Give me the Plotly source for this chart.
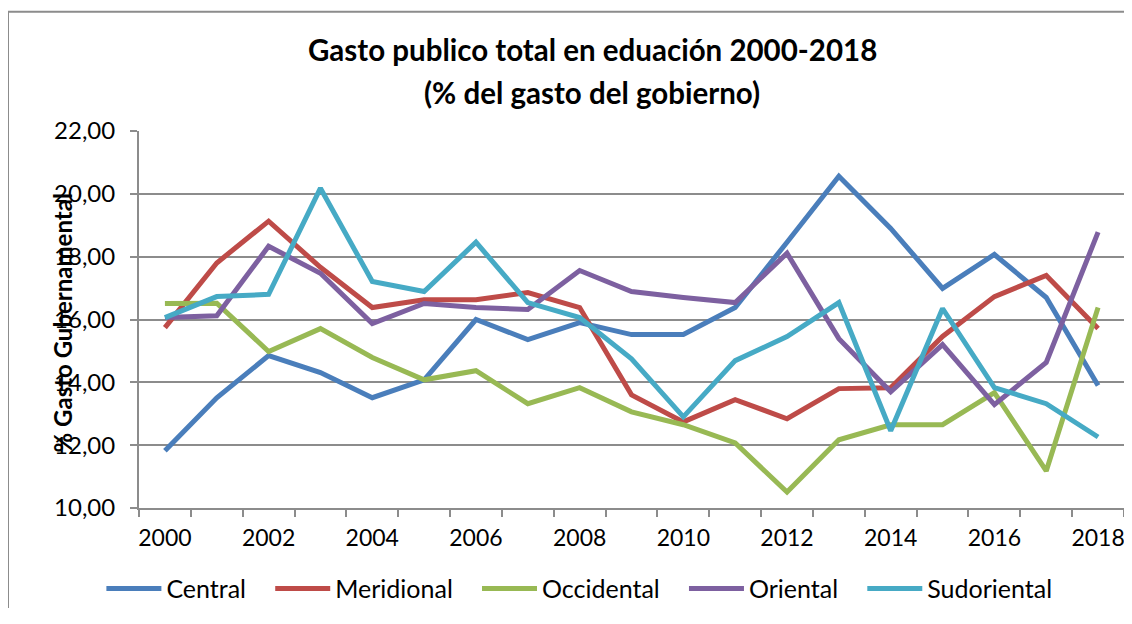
import plotly.graph_objects as go

years = list(range(2000, 2019))

central = [11.82, 13.51, 14.85, 14.31, 13.51, 14.08, 16.00, 15.36, 15.90, 15.52,
           15.52, 16.38, 18.46, 20.56, 18.90, 16.99, 18.07, 16.70, 13.90]
meridional = [15.74, 17.80, 19.13, 17.66, 16.38, 16.63, 16.63, 16.86, 16.38, 13.60,
              12.74, 13.45, 12.84, 13.80, 13.83, 15.46, 16.73, 17.40, 15.71]
occidental = [16.51, 16.52, 14.98, 15.71, 14.79, 14.08, 14.37, 13.32, 13.83, 13.06,
              12.65, 12.07, 10.51, 12.17, 12.65, 12.65, 13.67, 11.18, 16.38]
oriental = [16.06, 16.12, 18.33, 17.47, 15.87, 16.51, 16.38, 16.32, 17.56, 16.89,
            16.70, 16.54, 18.11, 15.39, 13.70, 15.20, 13.29, 14.63, 18.78]
sudoriental = [16.06, 16.73, 16.80, 20.18, 17.21, 16.89, 18.46, 16.54, 16.06, 14.75,
               12.90, 14.69, 15.46, 16.54, 12.46, 16.35, 13.83, 13.32, 12.26]

series = [
    ("Central", central, "#4a7ebb"),
    ("Meridional", meridional, "#be4b48"),
    ("Occidental", occidental, "#98b954"),
    ("Oriental", oriental, "#7d60a0"),
    ("Sudoriental", sudoriental, "#46aac5"),
]

title_lines = ["Gasto publico total en eduación 2000-2018", "(% del gasto del gobierno)"]

FONT = "Lato"
GRID = "#8c8c8c"
PAD = "\u00a0" * 3  # widen the gap between legend entries, as in the Excel legend

fig = go.Figure()
for i, (name, vals, color) in enumerate(series):
    label = name if i == len(series) - 1 else name + PAD
    fig.add_scatter(x=years, y=vals, name=label, mode="lines",
                    line=dict(color=color, width=5))

# the page body adds an 8px margin, so keep the figure inside the window
fig.update_layout(
    width=1116, height=600,
    margin=dict(l=131, r=0, t=123, b=100),
    paper_bgcolor="white", plot_bgcolor="white",
    separators=",.",
    font=dict(family=FONT, size=24, color="black"),
    showlegend=True,
    legend=dict(orientation="h", xref="container", x=0.512, xanchor="center",
                yref="container", y=0.032, yanchor="middle",
                font=dict(family=FONT, size=25), itemwidth=55, tracegroupgap=0),
)

fig.update_xaxes(
    range=[1999.5, 2018.5], tick0=2000, dtick=2, ticks="", showgrid=False,
    showline=True, linecolor=GRID, linewidth=2, zeroline=False, automargin=False,
    ticklabelstandoff=8, ticklabeloverflow="allow", tickfont=dict(size=23),
    minor=dict(tick0=1999.5, dtick=1, ticks="outside", ticklen=7, tickcolor=GRID,
               tickwidth=2, showgrid=False),
)
fig.update_yaxes(
    range=[10, 22], dtick=2, tickformat=".2f", ticks="outside", ticklen=7,
    tickcolor=GRID, tickwidth=2, showgrid=True, gridcolor=GRID, gridwidth=2,
    showline=True, linecolor=GRID, linewidth=2, zeroline=False, automargin=False,
    ticklabelstandoff=10,
)

for txt, ty in zip(title_lines, [1.215, 1.101]):
    fig.add_annotation(
        text=f"<b>{txt}</b>", showarrow=False, xref="paper", yref="paper",
        x=0.46, y=ty, xanchor="center", yanchor="middle",
        font=dict(family=FONT, size=29.5, color="black"),
    )

fig.add_annotation(
    text="<b>% Gasto Gubernamental</b>", textangle=-90, showarrow=False,
    xref="paper", yref="paper", x=-0.078, y=0.49, xanchor="center", yanchor="middle",
    font=dict(family=FONT, size=24, color="black"),
)

# chart frame (top and left edges only visible in the reference)
fig.add_shape(type="path", xref="paper", yref="paper",
              path="M -0.133,-0.3 L -0.133,1.316 L 1.0,1.316",
              line=dict(color=GRID, width=2))

fig.write_html("out.html")
